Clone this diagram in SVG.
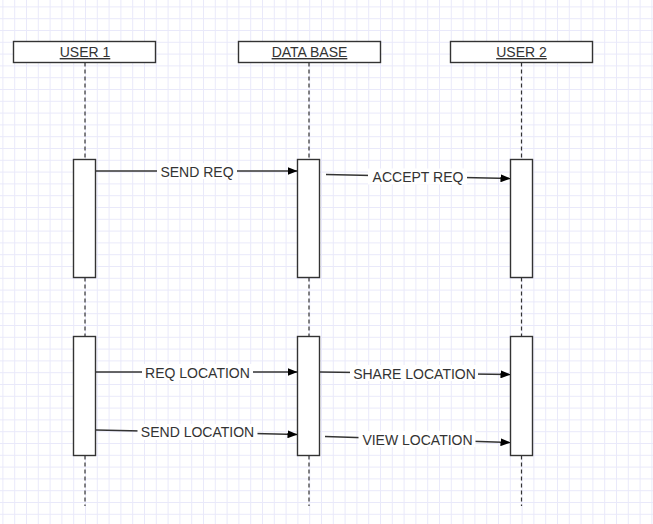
<svg xmlns="http://www.w3.org/2000/svg" width="653" height="524" viewBox="0 0 653 524">
  <style>
    .box { fill: #ffffff; stroke: #333333; stroke-width: 1.4; }
    .life { fill: none; stroke: #333333; stroke-width: 1.2; stroke-dasharray: 4 3; }
    .msg { fill: none; stroke: #333333; stroke-width: 1.4; marker-end: url(#arrow); }
    .lblbg { fill: #ffffff; }
    .hdr { font-family: "Liberation Sans", Arial, sans-serif; font-size: 14px; fill: #333333; text-anchor: middle; text-decoration: underline; }
    .lbl { font-family: "Liberation Sans", Arial, sans-serif; font-size: 14px; fill: #333333; text-anchor: middle; }
  </style>
  <defs>
    <pattern id="grid" patternUnits="userSpaceOnUse" x="2.4" y="6.4" width="11.8" height="11.8">
      <path d="M0.5 0 V11.8 M0 0.5 H11.8" fill="none" stroke="#e9e9fa" stroke-width="1"/>
    </pattern>
    <marker id="arrow" viewBox="0 0 10 8" refX="10" refY="4" markerWidth="10" markerHeight="8" markerUnits="userSpaceOnUse" orient="auto">
      <path d="M0 0 L10 4 L0 8 Z" fill="#000000"/>
    </marker>
  </defs>

  <!-- canvas grid -->
  <rect x="0" y="0" width="653" height="524" fill="#ffffff"/>
  <rect x="0" y="0" width="653" height="524" fill="url(#grid)"/>

  <!-- lifelines -->
  <g id="lifelines">
    <path class="life" d="M85 62.5 V159.5 M85 277.5 V336.5 M85 455.5 V506"/>
    <path class="life" d="M309 62.5 V159.5 M309 277.5 V336.5 M309 455.5 V506"/>
    <path class="life" d="M521.5 62.5 V159.5 M521.5 277.5 V336.5 M521.5 455.5 V506"/>
  </g>

  <!-- participants -->
  <g id="user1">
    <rect class="box" x="13.5" y="41.5" width="142" height="21"/>
    <text class="hdr" x="85" y="57">USER 1</text>
  </g>
  <g id="database">
    <rect class="box" x="238.5" y="41.5" width="142" height="21"/>
    <text class="hdr" x="309.5" y="57">DATA BASE</text>
  </g>
  <g id="user2">
    <rect class="box" x="450.5" y="41.5" width="142" height="21"/>
    <text class="hdr" x="521.5" y="57">USER 2</text>
  </g>

  <!-- activation bars -->
  <g id="user1-act1"><rect class="box" x="73.5" y="159.5" width="22" height="118"/></g>
  <g id="database-act1"><rect class="box" x="297.5" y="159.5" width="22" height="118"/></g>
  <g id="user2-act1"><rect class="box" x="510.5" y="159.5" width="22" height="118"/></g>
  <g id="user1-act2"><rect class="box" x="73.5" y="336.5" width="22" height="119"/></g>
  <g id="database-act2"><rect class="box" x="297.5" y="336.5" width="22" height="119"/></g>
  <g id="user2-act2"><rect class="box" x="510.5" y="336.5" width="22" height="119"/></g>

  <!-- messages -->
  <g id="connectors">
    <g id="msg-send-req">
      <line class="msg" x1="96" y1="171" x2="297.5" y2="171"/>
      <rect class="lblbg" x="157" y="163" width="80" height="16"/>
      <text class="lbl" x="197" y="176.5">SEND REQ</text>
    </g>
    <g id="msg-accept-req">
      <line class="msg" x1="326" y1="174.5" x2="510.5" y2="178.5"/>
      <rect class="lblbg" x="368" y="168.5" width="99" height="16"/>
      <text class="lbl" x="418" y="182">ACCEPT REQ</text>
    </g>
    <g id="msg-req-location">
      <line class="msg" x1="96" y1="372" x2="297.5" y2="372"/>
      <rect class="lblbg" x="142" y="364" width="111" height="16"/>
      <text class="lbl" x="197.5" y="377.5">REQ LOCATION</text>
    </g>
    <g id="msg-send-location">
      <line class="msg" x1="96" y1="430" x2="297.5" y2="434.5"/>
      <rect class="lblbg" x="137.5" y="424" width="120" height="16"/>
      <text class="lbl" x="197.5" y="437">SEND LOCATION</text>
    </g>
    <g id="msg-share-location">
      <line class="msg" x1="320" y1="372" x2="510.5" y2="374.5"/>
      <rect class="lblbg" x="350" y="365" width="128" height="16"/>
      <text class="lbl" x="414.5" y="378.5">SHARE LOCATION</text>
    </g>
    <g id="msg-view-location">
      <line class="msg" x1="325" y1="436.5" x2="510.5" y2="442.5"/>
      <rect class="lblbg" x="358.5" y="431" width="117" height="16"/>
      <text class="lbl" x="417.5" y="444.5">VIEW LOCATION</text>
    </g>
  </g>
</svg>
